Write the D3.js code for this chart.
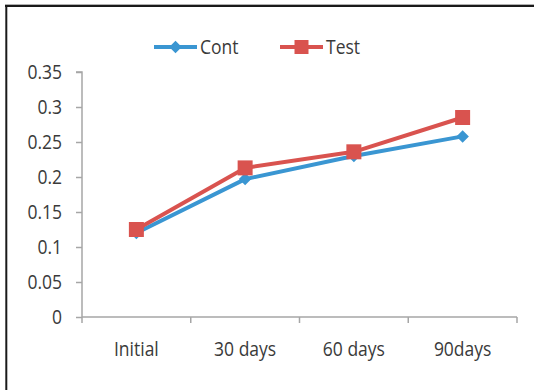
<!DOCTYPE html>
<html><head><meta charset="utf-8">
<script src="https://cdn.jsdelivr.net/npm/d3@7"></script>
<style>html,body{margin:0;padding:0;background:#fff;} svg{display:block;}</style>
</head><body>
<script>
const categories = ["Initial", "30 days", "60 days", "90days"];
const contValues = [0.12, 0.197, 0.23, 0.258];
const testValues = [0.125, 0.213, 0.236, 0.285];
const yTicks = [0, 0.05, 0.1, 0.15, 0.2, 0.25, 0.3, 0.35];
const yTickLabels = ["0", "0.05", "0.1", "0.15", "0.2", "0.25", "0.3", "0.35"];
const seriesNames = ["Cont", "Test"];

const W = 534, H = 390;
const FONT = "'Open Sans', sans-serif";
const FS = "17.5px", SY = 1.1;
const TEXT = "#3a3a3a", AXIS = "#a6a6a6";
const BLUE = "#3a96d2", RED = "#d9534f";

const svg = d3.select("body").append("svg").attr("width", W).attr("height", H);

// outer frame (only top and left visible)
svg.append("line").attr("x1", 5).attr("x2", W).attr("y1", 4.5).attr("y2", 4.5).attr("stroke", "#b0b0b0").attr("stroke-width", 1);
svg.append("line").attr("x1", 5).attr("x2", W).attr("y1", 6).attr("y2", 6).attr("stroke", "#1a1a1a").attr("stroke-width", 2);
svg.append("line").attr("x1", 6.3).attr("x2", 6.3).attr("y1", 5).attr("y2", H).attr("stroke", "#1a1a1a").attr("stroke-width", 2);

const x = d3.scaleBand().domain(categories).range([82, 517]).paddingInner(0).paddingOuter(0);
const y = d3.scaleLinear().domain([0, 0.35]).range([317, 72]);
const cx = d => x(d) + x.bandwidth() / 2;

function styleText(sel, tx, ty) {
  sel.attr("x", 0).attr("y", 0).attr("fill", TEXT)
    .attr("transform", `translate(${tx},${ty}) scale(1,${SY})`)
    .style("font-family", FONT).style("font-size", FS);
}

// Y axis
const yAxis = d3.axisLeft(y).tickValues(yTicks).tickSize(6).tickFormat((d, i) => yTickLabels[i]);
const gy = svg.append("g").attr("transform", "translate(82,0)").call(yAxis);
gy.select(".domain").attr("stroke", AXIS).attr("stroke-width", 1.5).attr("d", `M-6,${y(0.35)}H0V${y(0)}`);
gy.selectAll(".tick line").attr("stroke", AXIS).attr("stroke-width", 1.5);
gy.selectAll(".tick text").call(styleText, -20, 0).attr("dy", "0.36em");

// X axis
const xAxis = d3.axisBottom(x).tickSize(0).tickFormat(d => d);
const gx = svg.append("g").attr("transform", `translate(0,${y(0)})`).call(xAxis);
gx.select(".domain").attr("stroke", AXIS).attr("stroke-width", 1.5).attr("d", `M82,0H517`);
gx.selectAll(".tick text").call(styleText, 0, 39).attr("dy", 0);
// category boundary ticks
const bounds = categories.map(c => x(c)).concat([x(categories[categories.length - 1]) + x.bandwidth()]);
gx.selectAll("line.bound").data(bounds).enter().append("line").attr("class", "bound")
  .attr("x1", d => d).attr("x2", d => d).attr("y1", 0).attr("y2", 6)
  .attr("stroke", AXIS).attr("stroke-width", 1.5);

const line = d3.line().x((d, i) => cx(categories[i])).y(d => y(d));

const diamond = d3.symbol().type(d3.symbolDiamond2).size(100);
const square = d3.symbol().type(d3.symbolSquare).size(225);

// Cont series
svg.append("path").datum(contValues).attr("d", line).attr("fill", "none").attr("stroke", BLUE).attr("stroke-width", 4).attr("stroke-linejoin", "round");
svg.selectAll("path.cm").data(contValues).enter().append("path").attr("class", "cm")
  .attr("d", diamond).attr("fill", BLUE)
  .attr("transform", (d, i) => `translate(${cx(categories[i])},${y(d)})`);

// Test series
svg.append("path").datum(testValues).attr("d", line).attr("fill", "none").attr("stroke", RED).attr("stroke-width", 4).attr("stroke-linejoin", "round");
svg.selectAll("path.tm").data(testValues).enter().append("path").attr("class", "tm")
  .attr("d", square).attr("fill", RED)
  .attr("transform", (d, i) => `translate(${cx(categories[i])},${y(d)})`);

// Legend
const legend = [
  {name: seriesNames[0], color: BLUE, sym: diamond, x0: 154},
  {name: seriesNames[1], color: RED, sym: d3.symbol().type(d3.symbolSquare).size(196), x0: 280}
];
const lg = svg.selectAll("g.lg").data(legend).enter().append("g").attr("class", "lg")
  .attr("transform", d => `translate(${d.x0},47)`);
lg.append("line").attr("x1", 0).attr("x2", 43).attr("y1", 0).attr("y2", 0).attr("stroke", d => d.color).attr("stroke-width", 4);
lg.append("path").attr("d", d => d.sym()).attr("fill", d => d.color).attr("transform", "translate(21.5,0)");
lg.append("text").text(d => d.name).call(styleText, 46, 0).attr("dy", "0.36em");
</script>
</body></html>
